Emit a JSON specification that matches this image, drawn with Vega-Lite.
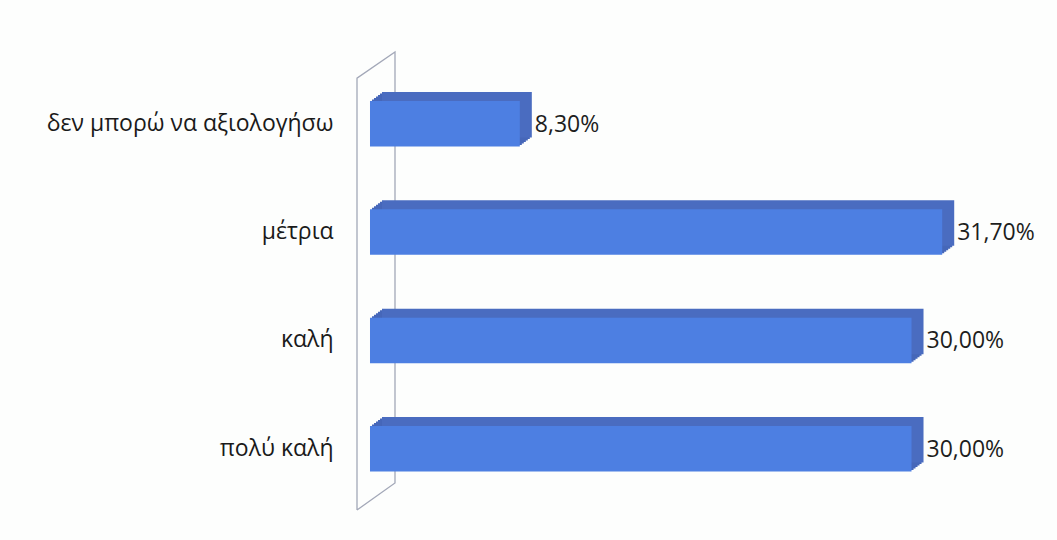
{
  "$schema": "https://vega.github.io/schema/vega-lite/v6.json",
  "autosize": {"type": "none"},
  "padding": {"left": 357, "top": 52, "right": 11, "bottom": 30},
  "width": 689,
  "height": 458,
  "background": "#fdfefd",
  "config": {
    "view": {"stroke": null},
    "font": "Open Sans",
    "locale": {"number": {"decimal": ",", "thousands": ".", "grouping": [3], "currency": ["", " €"]}}
  },
  "datasets": {
    "bars": [
      {"category": "δεν μπορώ να αξιολογήσω", "value": 0.083},
      {"category": "μέτρια", "value": 0.317},
      {"category": "καλή", "value": 0.30},
      {"category": "πολύ καλή", "value": 0.30}
    ],
    "wall": [
      {"i": 1, "x": -0.0072, "y": 0},
      {"i": 2, "x": -0.0072, "y": 0.943},
      {"i": 3, "x": 0.01385, "y": 1},
      {"i": 4, "x": 0.01385, "y": 0.059},
      {"i": 5, "x": -0.0072, "y": 0}
    ]
  },
  "layer": [
    {
      "data": {"name": "wall"},
      "mark": {"type": "line", "stroke": "#a3a8b8", "strokeWidth": 1.3},
      "encoding": {
        "x": {"field": "x", "type": "quantitative", "scale": {"domain": [-0.0072, 0.3745], "nice": false, "zero": false}, "axis": null},
        "y": {"field": "y", "type": "quantitative", "scale": {"domain": [0, 1], "nice": false}, "axis": null},
        "order": {"field": "i"}
      }
    },
    {
      "data": {"name": "bars"},
      "layer": [
        {"mark": {"type": "bar", "color": "#4667b9", "xOffset": 2, "x2Offset": 2, "yOffset": -1.5, "y2Offset": -1.5}},
        {"mark": {"type": "bar", "color": "#4667b9", "xOffset": 4, "x2Offset": 4, "yOffset": -3, "y2Offset": -3}},
        {"mark": {"type": "bar", "color": "#4667b9", "xOffset": 6, "x2Offset": 6, "yOffset": -4.5, "y2Offset": -4.5}},
        {"mark": {"type": "bar", "color": "#4667b9", "xOffset": 8, "x2Offset": 8, "yOffset": -6, "y2Offset": -6}},
        {"mark": {"type": "bar", "color": "#4667b9", "xOffset": 10, "x2Offset": 10, "yOffset": -7.5, "y2Offset": -7.5}},
        {"mark": {"type": "bar", "color": "#4a6cc0", "xOffset": 12, "x2Offset": 12, "yOffset": -9, "y2Offset": -9}},
        {"mark": {"type": "bar", "color": "#4d7fe2"}},
        {
          "mark": {"type": "text", "align": "left", "baseline": "middle", "dx": 15, "dy": 1, "fontSize": 23, "color": "#1e1e1e"},
          "encoding": {
            "text": {"field": "value", "type": "quantitative", "format": ".2%"}
          }
        }
      ],
      "encoding": {
        "y": {
          "field": "category", "type": "nominal", "sort": null,
          "scale": {"paddingInner": 0.58, "paddingOuter": 0.404, "align": 0.56},
          "axis": {"title": null, "ticks": false, "domain": false, "labelPadding": 24, "labelFontSize": 23, "labelColor": "#1a1a1a", "labelFont": "Open Sans", "labelLimit": 400}
        },
        "x": {"field": "value", "type": "quantitative", "scale": {"domain": [-0.0072, 0.3745], "nice": false, "zero": false}, "axis": null},
        "x2": {"datum": 0}
      }
    }
  ],
  "resolve": {"scale": {"y": "independent"}, "axis": {"y": "independent"}}
}
